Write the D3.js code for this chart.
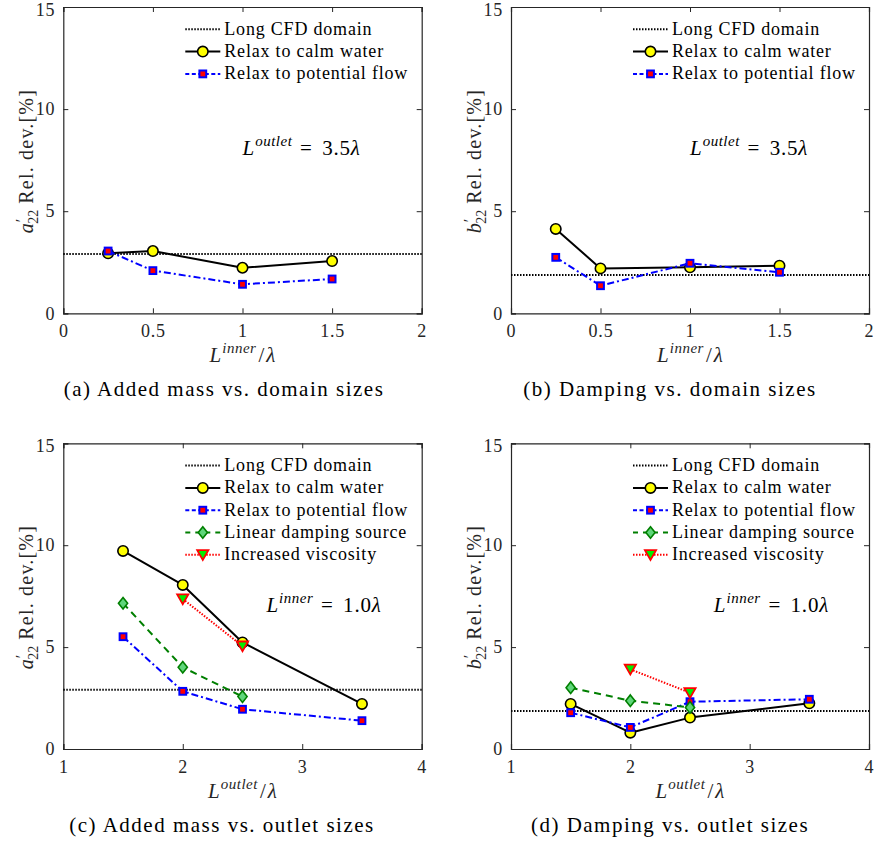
<!DOCTYPE html>
<html><head><meta charset="utf-8">
<script src="https://cdn.jsdelivr.net/npm/d3@7"></script>
<style>
body{margin:0;background:#fff;}
svg text{font-family:"Liberation Serif","DejaVu Serif",serif !important;}
</style></head>
<body><svg id="c" width="875" height="845"></svg>
<script>
// ---- data ----
const innerX = [0.25, 0.5, 1.0, 1.5];
const outletX = [1.5, 2.0, 2.5, 3.5];
const outletXLin = [1.5, 2.0, 2.5];
const outletXVisc = [2.0, 2.5];

const aLong = 2.90, bLong = 1.87, cLong = 2.91, dLong = 1.86;

const aCalm = [2.94, 3.05, 2.23, 2.56];
const aPot  = [3.05, 2.09, 1.42, 1.68];
const bCalm = [4.13, 2.20, 2.25, 2.33];
const bPot  = [2.74, 1.35, 2.45, 2.01];

const cCalm = [9.72, 8.05, 5.23, 2.21];
const cPot  = [5.51, 2.83, 1.95, 1.39];
const cLin  = [7.15, 4.01, 2.57];
const cVisc = [7.36, 5.05];

const dCalm = [2.21, 0.80, 1.54, 2.24];
const dPot  = [1.78, 1.06, 2.32, 2.44];
const dLin  = [3.01, 2.37, 2.04];
const dVisc = [3.91, 2.76];

const yTicks = [0, 5, 10, 15];
const innerTicks = [0, 0.5, 1, 1.5, 2];
const outletTicks = [1, 2, 3, 4];
const legendLabels = ["Long CFD domain","Relax to calm water","Relax to potential flow","Linear damping source","Increased viscosity"];
const captions = ["(a) Added mass vs. domain sizes","(b) Damping vs. domain sizes","(c) Added mass vs. outlet sizes","(d) Damping vs. outlet sizes"];

// ---- styles ----
const S = {
  long:{stroke:"#000", dash:"1.5,1.5", w:2},
  calm:{stroke:"#000", dash:null, w:2},
  pot:{stroke:"#0000ff", dash:"7,3,2,3", w:2},
  lin:{stroke:"#007f00", dash:"7,5", w:2},
  visc:{stroke:"#ff0000", dash:"1.5,1.5", w:2}
};

const panels = [
  {L:63.3, T:7, R:421.7, B:313.3, xd:[0,2], xt:innerTicks, coef:"a", sup:"inner", ann:"outlet", annVal:"3.5", annX:1.0, annY:7.75,
   capX:224, long:aLong, series:[["calm",innerX,aCalm],["pot",innerX,aPot]]},
  {L:511, T:7, R:869, B:313.3, xd:[0,2], xt:innerTicks, coef:"b", sup:"inner", ann:"outlet", annVal:"3.5", annX:1.0, annY:7.75,
   capX:670, long:bLong, series:[["calm",innerX,bCalm],["pot",innerX,bPot]]},
  {L:63.3, T:443.3, R:421.7, B:749, xd:[1,4], xt:outletTicks, coef:"a", sup:"outlet", ann:"inner", annVal:"1.0", annX:2.7, annY:6.74,
   capX:222, long:cLong, series:[["calm",outletX,cCalm],["pot",outletX,cPot],["lin",outletXLin,cLin],["visc",outletXVisc,cVisc]]},
  {L:511, T:443.3, R:869, B:749, xd:[1,4], xt:outletTicks, coef:"b", sup:"outlet", ann:"inner", annVal:"1.0", annX:2.7, annY:6.74,
   capX:670, long:dLong, series:[["calm",outletX,dCalm],["pot",outletX,dPot],["lin",outletXLin,dLin],["visc",outletXVisc,dVisc]]}
];

const svg = d3.select("#c");
const FF = '"Liberation Serif","DejaVu Serif",serif';
const axisCol = "#262626";

function marker(g, type, x, y){
  if(type==="calm"){
    g.append("circle").attr("cx",x).attr("cy",y).attr("r",5.2).attr("fill","#ffff00").attr("stroke","#000").attr("stroke-width",1.6);
  } else if(type==="pot"){
    g.append("rect").attr("x",x-3.4).attr("y",y-3.4).attr("width",6.8).attr("height",6.8).attr("fill","#ff0000").attr("stroke","#0000ff").attr("stroke-width",2);
  } else if(type==="lin"){
    g.append("path").attr("d",`M${x},${y-5.8}L${x+4.6},${y}L${x},${y+5.8}L${x-4.6},${y}Z`).attr("fill","#5fd67a").attr("stroke","#007f00").attr("stroke-width",1.6);
  } else if(type==="visc"){
    g.append("path").attr("d",`M${x-5.6},${y-4.6}L${x+5.6},${y-4.6}L${x},${y+5.2}Z`).attr("fill","#00ee00").attr("stroke","#ff0000").attr("stroke-width",1.8).attr("stroke-linejoin","miter");
  }
}

panels.forEach((p,pi)=>{
  const x = d3.scaleLinear().domain(p.xd).range([p.L,p.R]);
  const y = d3.scaleLinear().domain([0,15]).range([p.B,p.T]);
  const g = svg.append("g");

  const axB = d3.axisBottom(x).tickValues(p.xt).tickSize(-5).tickFormat(d3.format("")).tickPadding(11);
  const axT = d3.axisTop(x).tickValues(p.xt).tickSize(-5).tickFormat("");
  const axL = d3.axisLeft(y).tickValues(yTicks).tickSize(-5).tickFormat(d3.format("")).tickPadding(8);
  const axR = d3.axisRight(y).tickValues(yTicks).tickSize(-5).tickFormat("");
  [[axB,`translate(0,${p.B})`],[axT,`translate(0,${p.T})`],[axL,`translate(${p.L},0)`],[axR,`translate(${p.R},0)`]].forEach(([ax,tr],k)=>{
    const a = g.append("g").attr("transform",tr).call(ax);
    a.attr("font-family",FF);
    a.select(".domain").attr("stroke",axisCol).attr("stroke-width",1.2);
    a.selectAll(".tick line").attr("stroke",axisCol).attr("stroke-width",1);
    a.selectAll(".tick text").attr("fill",axisCol).style("font-size","18px").style("font-family",FF).style("letter-spacing","0.8px");
    if(k===2) a.selectAll(".tick text").filter(d=>d===15).attr("dy","0.45em");
  });

  const line = d3.line().x(d=>x(d[0])).y(d=>y(d[1]));
  g.append("path").attr("d",line([[p.xd[0],p.long],[p.xd[1],p.long]]))
    .attr("fill","none").attr("stroke",S.long.stroke).attr("stroke-width",S.long.w).attr("stroke-dasharray",S.long.dash);

  p.series.forEach(([type,xs,ys])=>{
    const pts = xs.map((v,i)=>[v,ys[i]]);
    const st = S[type];
    g.append("path").attr("d",line(pts)).attr("fill","none").attr("stroke",st.stroke).attr("stroke-width",st.w)
      .attr("stroke-dasharray",st.dash).attr("stroke-linejoin","round");
    pts.forEach(d=>marker(g,type,x(d[0]),y(d[1])));
  });

  // legend
  const types = ["long"].concat(p.series.map(s=>s[0]));
  const lx0 = p.L + 122, ly0 = p.T + 22.3, lsp = 22.3;
  types.forEach((t,i)=>{
    const yy = ly0 + i*lsp;
    const st = S[t];
    g.append("line").attr("x1",lx0).attr("x2",lx0+35).attr("y1",yy).attr("y2",yy)
      .attr("stroke",st.stroke).attr("stroke-width",st.w).attr("stroke-dasharray", t==="calm"?null:(t==="pot"?"4,2.5":(t==="lin"?"5,5":st.dash)));
    if(t!=="long") marker(g,t,lx0+17.5,yy);
    const ti = ["long","calm","pot","lin","visc"].indexOf(t);
    g.append("text").attr("x",lx0+39).attr("y",yy+5.5).text(legendLabels[ti])
      .style("font-family",FF).style("font-size","18px").style("letter-spacing","0.8px").attr("fill","#000");
  });

  // annotation
  const an = g.append("text").attr("x",x(p.annX)).attr("y",y(p.annY)).style("font-family",FF).style("font-size","21px").attr("fill","#000");
  an.append("tspan").text("L").style("font-style","italic");
  an.append("tspan").text(p.ann).style("font-style","italic").style("font-size","15px").style("letter-spacing","0.5px").attr("dy",-9).attr("dx",1);
  an.append("tspan").text(" = ").attr("dy",9).style("letter-spacing","2.5px");
  an.append("tspan").text(p.annVal).style("letter-spacing","0.8px");
  an.append("tspan").text("λ").style("font-style","italic");

  // x label
  const xl = g.append("text").attr("x",(p.L+p.R)/2).attr("y",p.B+49).attr("text-anchor","middle").style("font-family",FF).style("font-size","21px").attr("fill",axisCol);
  xl.append("tspan").text("L").style("font-style","italic");
  xl.append("tspan").text(p.sup).style("font-style","italic").style("font-size","15px").style("letter-spacing","0.5px").attr("dy",-9).attr("dx",1);
  xl.append("tspan").text("/").attr("dy",9).attr("dx",2);
  xl.append("tspan").text("λ").style("font-style","italic").attr("dx",2);

  // y label
  const yl = g.append("text").attr("transform",`translate(${p.L-30},${(p.T+p.B)/2+1}) rotate(-90)`).attr("text-anchor","middle")
    .style("font-family",FF).style("font-size","20px").attr("fill",axisCol);
  yl.append("tspan").text(p.coef).style("font-style","italic");
  yl.append("tspan").text("′").style("font-size","16px").attr("dy",-6).attr("dx",1);
  yl.append("tspan").text("22").style("font-size","14px").attr("dy",11).attr("dx",-5);
  yl.append("tspan").text(" Rel. dev.[%]").attr("dy",-5).style("letter-spacing","1.2px");

  // caption
  svg.append("text").attr("x",p.capX).attr("y",p.B+83).attr("text-anchor","middle").text(captions[pi])
    .style("font-family",FF).style("font-size","21px").style("letter-spacing","1.5px").attr("fill","#000");
});
</script></body></html>
